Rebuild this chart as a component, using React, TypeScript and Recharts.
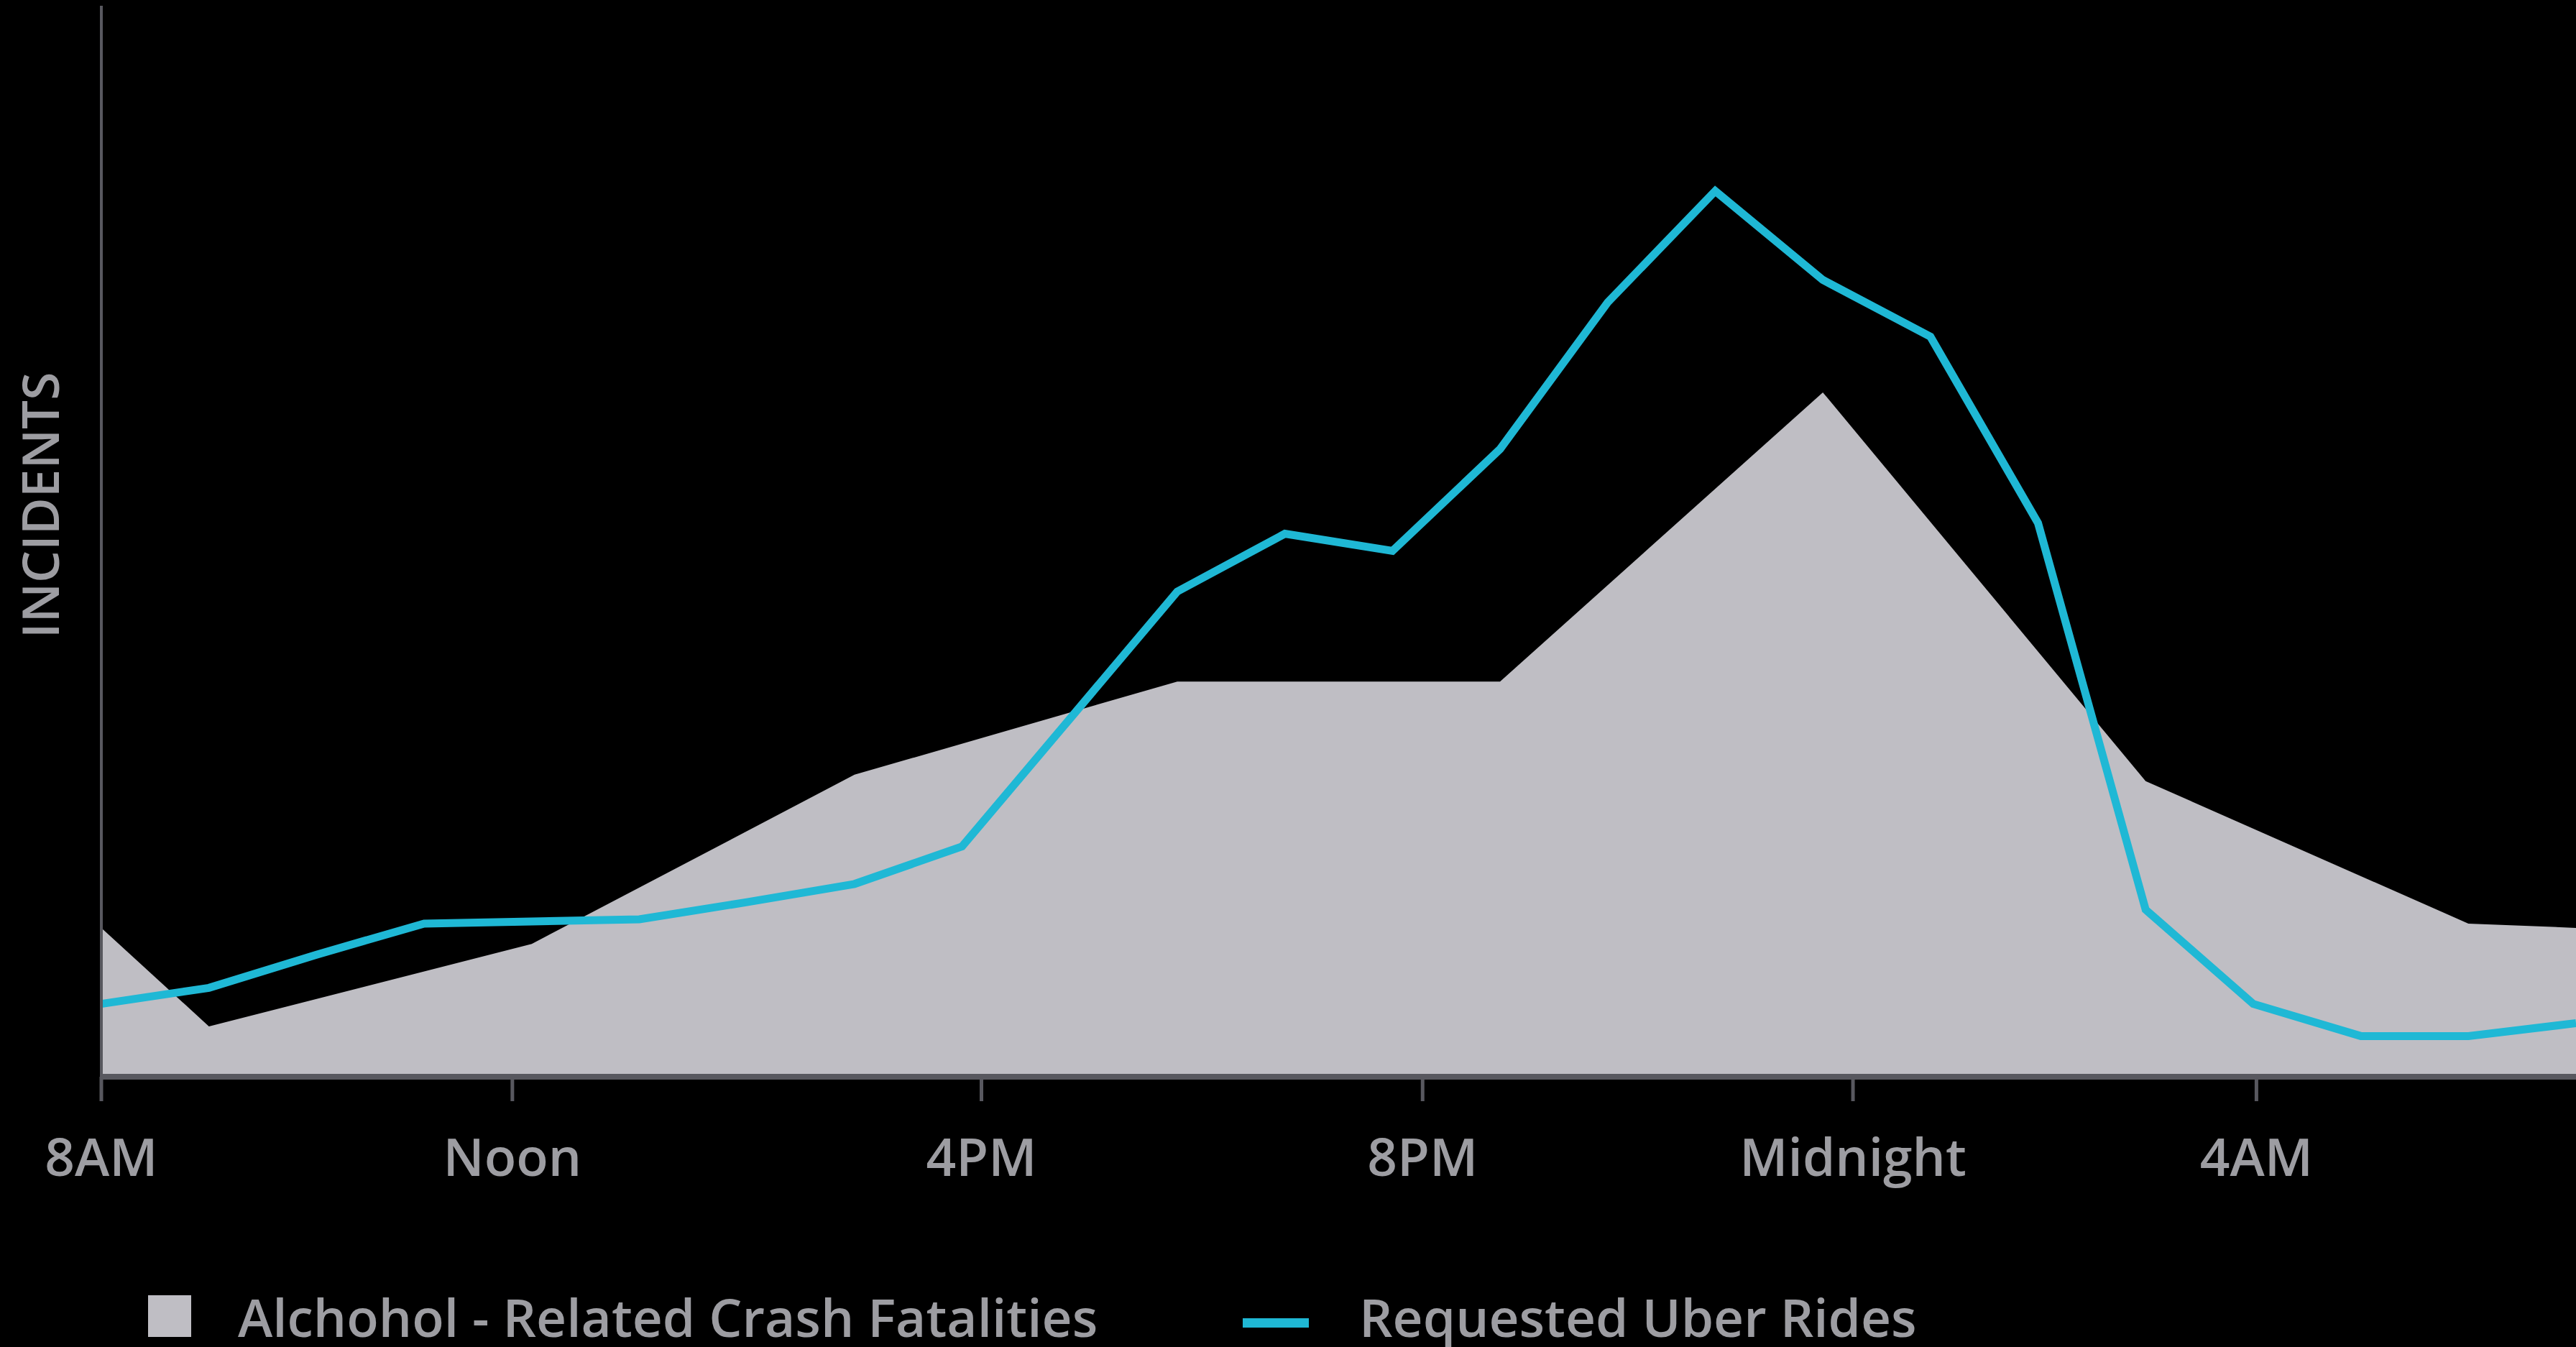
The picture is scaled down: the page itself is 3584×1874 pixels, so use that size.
import { ComposedChart, Area, Line, XAxis, YAxis, Legend, Label } from "recharts"

// hourly slots from 8AM through 7AM the next day
const hours = [
  "8AM", "9AM", "10AM", "11AM", "Noon", "1PM", "2PM", "3PM",
  "4PM", "5PM", "6PM", "7PM", "8PM", "9PM", "10PM", "11PM",
  "Midnight", "1AM", "2AM", "3AM", "4AM", "5AM", "6AM", "7AM",
]

// requested uber rides (relative incidents), one value per hour
const uberRides = [
  6.8, 8.3, 11.4, 14.3, 14.5, 14.7, 16.3, 18.0, 21.5, 33.4, 45.3, 50.7,
  49.1, 58.6, 72.3, 82.7, 74.4, 69.1, 51.7, 15.6, 6.8, 3.8, 3.8, 5.0,
]

// alcohol related crash fatalities, sampled every 3 hours (null = no sample)
const crashFatalities = [
  13.9, 4.7, null, null, 12.4, null, null, 28.2, null, null, 36.9, null,
  null, 36.9, null, null, 63.9, null, null, 27.6, null, null, 14.3, 13.9,
]

// axis ticks as placed in the original graphic
const tickLabels = ["8AM", "Noon", "4PM", "8PM", "Midnight", "4AM"]
const tickPositions = [0, 3.82, 8.18, 12.28, 16.28, 20.03]

const FONT = "'Open Sans', sans-serif"
const TEXT = "#9d9da2"
const AXIS = "#58585f"
const CYAN = "#1fb8d5"
const FILL = "#bfbec4"

const chartData = hours.map((h, i) => ({
  hour: i,
  label: h,
  rides: uberRides[i],
  crashes: crashFatalities[i],
}))

function tickText(v: number) {
  const i = tickPositions.indexOf(v)
  return i >= 0 ? tickLabels[i] : ""
}

// eslint-disable-next-line @typescript-eslint/no-explicit-any
function YTitle({ viewBox }: any) {
  const x = viewBox.x + 82
  const y = viewBox.y + viewBox.height / 2 - 50
  return (
    <text
      x={x}
      y={y}
      transform={`rotate(-90 ${x} ${y})`}
      textAnchor="middle"
      fill={TEXT}
      fontSize={71}
      fontWeight={600}
      fontFamily={FONT}
    >
      INCIDENTS
    </text>
  )
}

const legendX = [206, 1729]

// eslint-disable-next-line @typescript-eslint/no-explicit-any
function ChartLegend({ payload }: any) {
  return (
    <svg width={3584} height={197} style={{ display: "block", overflow: "visible" }}>
      {(payload || []).map((entry: any, i: number) => {
        const x = legendX[i] ?? 0
        const isLine = entry.type === "line"
        return (
          <g key={entry.value}>
            {isLine ? (
              <rect x={x} y={157} width={92} height={13} fill={CYAN} />
            ) : (
              <rect x={x} y={125} width={60} height={58} fill={FILL} />
            )}
            <text
              x={isLine ? x + 162 : x + 125}
              y={183}
              fill={TEXT}
              fontSize={73}
              fontWeight={600}
              fontFamily={FONT}
            >
              {entry.value}
            </text>
          </g>
        )
      })}
    </svg>
  )
}

export default function App() {
  return (
    <div
      style={{
        position: "absolute",
        left: 0,
        top: 0,
        width: 3584,
        height: 1874,
        background: "#000",
        overflow: "hidden",
      }}
    >
      <ComposedChart
        width={3584}
        height={1874}
        data={chartData}
        margin={{ top: 8, right: 0, bottom: 0, left: 0 }}
        style={{ fontFamily: FONT }}
      >
        <XAxis
          dataKey="hour"
          type="number"
          domain={[0, 23]}
          ticks={tickPositions}
          interval={0}
          tickFormatter={tickText}
          height={179}
          tickSize={34}
          tickMargin={52}
          tick={{ fontSize: 73, fontWeight: 600, fill: TEXT, fontFamily: FONT }}
          axisLine={{ stroke: AXIS, strokeWidth: 8 }}
          tickLine={{ stroke: AXIS, strokeWidth: 5 }}
        />
        <YAxis
          domain={[0, 100]}
          width={141}
          tick={false}
          tickLine={false}
          axisLine={{ stroke: AXIS, strokeWidth: 4 }}
        >
          <Label content={<YTitle />} />
        </YAxis>
        <Legend verticalAlign="bottom" height={197} content={<ChartLegend />} />
        <Area
          type="linear"
          dataKey="crashes"
          name="Alchohol - Related Crash Fatalities"
          legendType="square"
          connectNulls
          stroke="none"
          fill={FILL}
          fillOpacity={1}
          isAnimationActive={false}
        />
        <Line
          type="linear"
          dataKey="rides"
          name="Requested Uber Rides"
          legendType="line"
          stroke={CYAN}
          strokeWidth={11}
          dot={false}
          activeDot={false}
          isAnimationActive={false}
        />
      </ComposedChart>
    </div>
  )
}
